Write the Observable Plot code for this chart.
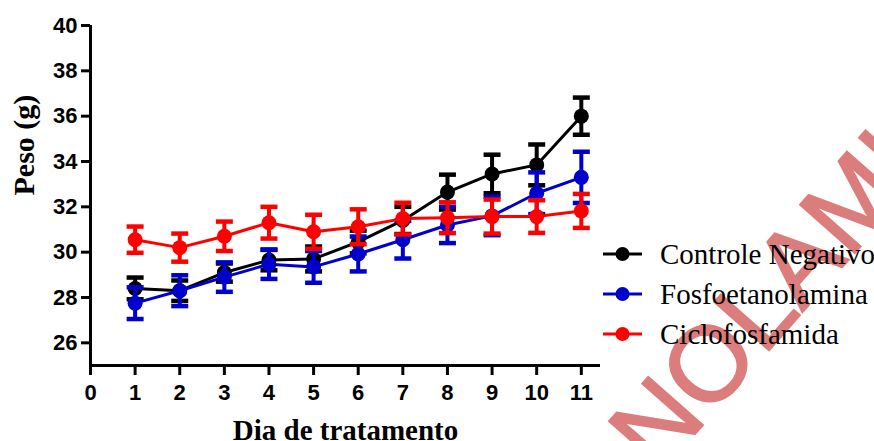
<!DOCTYPE html>
<html>
<head>
<meta charset="utf-8">
<script src="https://cdn.jsdelivr.net/npm/d3@7"></script>
<script src="https://cdn.jsdelivr.net/npm/@observablehq/plot@0.6"></script>
<style>
  body { margin: 0; background: #fff; }
  #wrap { position: relative; width: 874px; height: 441px; overflow: hidden; background: #fff; }
  #wm { position: absolute; left: 0; top: 0; }
  #chart { position: absolute; left: 0; top: 0; }
  #legend { position: absolute; left: 600px; top: 234px; font-family: "Liberation Serif", "Times New Roman", serif; font-size: 29px; color: #000; white-space: nowrap; }
  .row { height: 40px; display: flex; align-items: center; }
  .row svg { flex: none; }
</style>
</head>
<body>
<div id="wrap">
  <svg id="wm" width="874" height="441"></svg>
  <div id="chart"></div>
  <div id="legend"></div>
</div>
<script>
// ---- data ----
const days = [1, 2, 3, 4, 5, 6, 7, 8, 9, 10, 11];
const seriesNames = ["Controle Negativo", "Fosfoetanolamina", "Ciclofosfamida"];
const seriesColors = ["#000000", "#0000cc", "#ff0000"];
const controleMean = [28.4, 28.3, 29.1, 29.65, 29.7, 30.45, 31.4, 32.65, 33.45, 33.85, 36.0];
const controleSem  = [0.48, 0.45, 0.4, 0.45, 0.55, 0.5, 0.6, 0.77, 0.85, 0.9, 0.82];
const fosfoMean    = [27.75, 28.3, 28.9, 29.47, 29.35, 29.92, 30.55, 31.2, 31.6, 32.6, 33.3];
const fosfoSem     = [0.7, 0.68, 0.65, 0.65, 0.7, 0.77, 0.83, 0.8, 0.85, 0.92, 1.13];
const cicloMean    = [30.55, 30.2, 30.7, 31.3, 30.9, 31.12, 31.48, 31.52, 31.57, 31.57, 31.82];
const cicloSem     = [0.58, 0.62, 0.65, 0.7, 0.75, 0.77, 0.7, 0.68, 0.75, 0.72, 0.75];
const xTicks = [0, 1, 2, 3, 4, 5, 6, 7, 8, 9, 10, 11];
const yTicks = [26, 28, 30, 32, 34, 36, 38, 40];
const yLabel = "Peso (g)";
const xLabel = "Dia de tratamento";
const watermarkBefore = "FOSFOETA";
const watermarkAfter = "NOLAMINA";

const means = [controleMean, fosfoMean, cicloMean];
const sems = [controleSem, fosfoSem, cicloSem];

const sans = "'Liberation Sans', Arial, sans-serif";
const serif = "'Liberation Serif', 'Times New Roman', serif";

const capSymbol = {
  draw(ctx, size) {
    const w = Math.sqrt(size / Math.PI);
    ctx.moveTo(-w, 0);
    ctx.lineTo(w, 0);
  }
};

const marks = [];
seriesNames.forEach((name, i) => {
  const data = days.map((d, j) => ({serie: name, day: d, mean: means[i][j], sem: sems[i][j]}));
  const c = seriesColors[i];
  marks.push(
    Plot.ruleX(data, {x: "day", y1: d => d.mean - d.sem, y2: d => d.mean + d.sem, stroke: c, strokeWidth: 4}),
    Plot.dot(data, {x: "day", y: d => d.mean + d.sem, symbol: capSymbol, r: 8.5, stroke: c, strokeWidth: 4.5, fill: "none"}),
    Plot.dot(data, {x: "day", y: d => d.mean - d.sem, symbol: capSymbol, r: 8.5, stroke: c, strokeWidth: 4.5, fill: "none"}),
    Plot.line(data, {x: "day", y: "mean", stroke: c, strokeWidth: 3}),
    Plot.dot(data, {x: "day", y: "mean", r: 7.5, fill: c, stroke: "none"})
  );
});

const plot = Plot.plot({
  width: 874,
  height: 441,
  marginLeft: 90,
  marginRight: 274,
  marginTop: 25,
  marginBottom: 76,
  style: {background: "transparent", fontFamily: sans, color: "#000"},
  x: {domain: [0, 11.43]},
  y: {domain: [25, 40]},
  marks: [
    Plot.axisY({ticks: yTicks, tickSize: 9, tickPadding: 4, fontSize: 22, fontWeight: "bold", strokeWidth: 3, label: null}),
    Plot.axisX({ticks: xTicks, tickSize: 10, tickPadding: 9, fontSize: 22, fontWeight: "bold", strokeWidth: 3, label: null}),
    Plot.ruleX([0], {strokeWidth: 3}),
    Plot.ruleY([25], {strokeWidth: 3}),
    Plot.text([yLabel], {frameAnchor: "left", dx: -57, rotate: -90, lineAnchor: "bottom", fontSize: 30, fontWeight: "bold", fontFamily: serif}),
    Plot.text([xLabel], {frameAnchor: "bottom", dy: 74, lineAnchor: "bottom", fontSize: 29, fontWeight: "bold", fontFamily: serif}),
    ...marks
  ]
});
document.getElementById("chart").appendChild(plot);

// legend
const legend = d3.select("#legend");
seriesNames.forEach((name, i) => {
  const row = legend.append("div").attr("class", "row");
  const s = row.append("svg").attr("width", 60).attr("height", 40);
  s.append("line").attr("x1", 3).attr("x2", 42).attr("y1", 20).attr("y2", 20).attr("stroke", seriesColors[i]).attr("stroke-width", 3);
  s.append("circle").attr("cx", 22.5).attr("cy", 20).attr("r", 7).attr("fill", seriesColors[i]);
  row.append("span").text(name);
});

// watermark
const wm = d3.select("#wm").append("g").attr("transform", "translate(658,476) rotate(-48.6)")
  .attr("fill", "#dc7d7d").attr("stroke", "#dc7d7d").attr("stroke-width", 2)
  .style("font-family", sans).style("font-size", "106px");
wm.append("text").attr("text-anchor", "end").text(watermarkBefore);
wm.append("text").attr("text-anchor", "start").text(watermarkAfter);
</script>
</body>
</html>
